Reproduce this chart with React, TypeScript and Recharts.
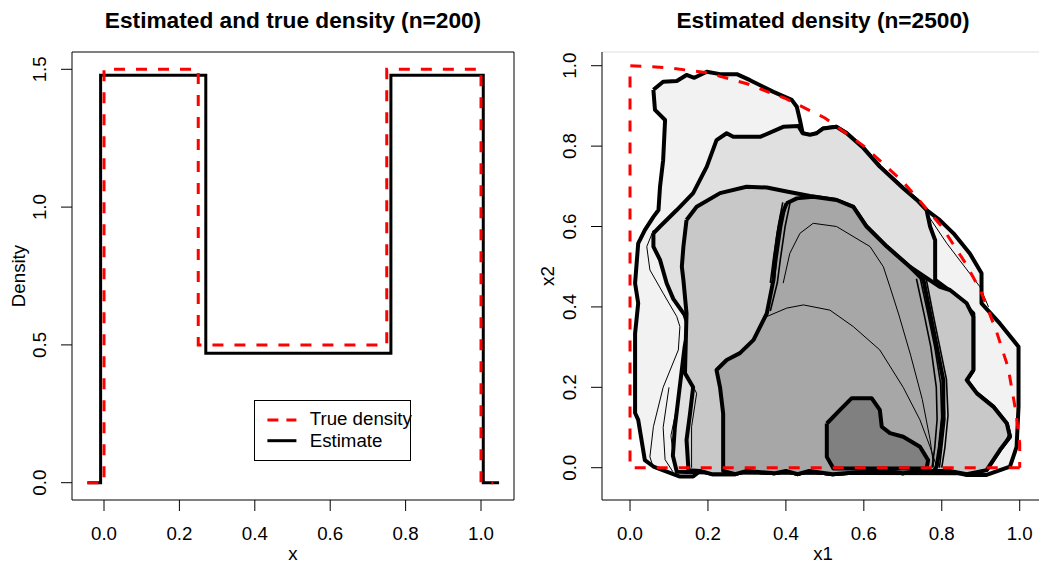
import React from 'react';
import { ComposedChart, Line, Scatter, XAxis, YAxis, ReferenceArea, ReferenceLine, Legend } from 'recharts';

const FONT = '"Liberation Sans", Arial, Helvetica, sans-serif';
const BASE = 18.7;

// ---- left panel: step densities (n=200)
const trueX = [-0.044, 0, 0, 0.25, 0.25, 0.75, 0.75, 1, 1, 1.032];
const trueY = [0, 0, 1.5, 1.5, 0.5, 0.5, 1.5, 1.5, 0, 0];
const estX = [-0.044, -0.009, -0.009, 0.27, 0.27, 0.761, 0.761, 1.006, 1.006, 1.048];
const estY = [0, 0, 1.478, 1.478, 0.4695, 0.4695, 1.478, 1.478, 0, 0];
const leftXTicks = [0, 0.2, 0.4, 0.6, 0.8, 1];
const leftYTicks = [0, 0.5, 1, 1.5];

// ---- right panel: filled contour levels (n=2500), outer to inner
const level1 = [
  [0.06, 0.94], [0.085, 0.96], [0.12, 0.962], [0.145, 0.977], [0.165, 0.97], [0.197, 0.985], [0.231, 0.979],
  [0.274, 0.979], [0.308, 0.964], [0.368, 0.935], [0.415, 0.915], [0.428, 0.898], [0.436, 0.865], [0.443, 0.832],
  [0.462, 0.828], [0.479, 0.832], [0.496, 0.844], [0.53, 0.848], [0.556, 0.832], [0.599, 0.795], [0.641, 0.749],
  [0.701, 0.695], [0.736, 0.666], [0.761, 0.641], [0.795, 0.616], [0.83, 0.583], [0.872, 0.533], [0.902, 0.484],
  [0.902, 0.409], [0.949, 0.359], [0.997, 0.301], [0.997, 0.152], [0.992, 0.052], [0.975, 0.003], [0.915, -0.018],
  [0.864, -0.018], [0.82, -0.008], [0.74, -0.008], [0.7, -0.014], [0.66, -0.008], [0.6, -0.01], [0.52, -0.016],
  [0.46, -0.008], [0.43, -0.016], [0.4, -0.008], [0.37, -0.014], [0.3, -0.008], [0.27, -0.016], [0.21, -0.016],
  [0.18, -0.008], [0.162, -0.022], [0.128, -0.022], [0.06, 0.003], [0.038, 0.019], [0.021, 0.119], [0.013, 0.136],
  [0.013, 0.334], [0.021, 0.409], [0.013, 0.459], [0.021, 0.558], [0.038, 0.591], [0.06, 0.624], [0.073, 0.641],
  [0.077, 0.699], [0.085, 0.765], [0.09, 0.865], [0.064, 0.89], [0.06, 0.94],
];
const level2 = [
  [0.06, 0.583], [0.077, 0.6], [0.12, 0.641], [0.162, 0.683], [0.197, 0.749], [0.222, 0.815], [0.248, 0.832],
  [0.265, 0.823], [0.334, 0.823], [0.393, 0.848], [0.432, 0.85], [0.443, 0.832], [0.462, 0.828], [0.479, 0.832],
  [0.496, 0.844], [0.53, 0.848], [0.556, 0.832], [0.599, 0.795], [0.641, 0.749], [0.701, 0.695], [0.736, 0.666],
  [0.761, 0.641], [0.77, 0.6], [0.783, 0.566], [0.783, 0.467], [0.83, 0.434], [0.881, 0.384], [0.881, 0.243],
  [0.864, 0.218], [0.89, 0.185], [0.932, 0.152], [0.967, 0.11], [0.975, 0.077], [0.949, 0.044], [0.915, -0.006],
  [0.864, -0.014], [0.2, -0.012], [0.12, -0.01], [0.11, 0.03], [0.115, 0.1], [0.13, 0.22], [0.14, 0.3], [0.15, 0.35],
  [0.14, 0.38], [0.111, 0.42], [0.094, 0.459], [0.077, 0.517], [0.06, 0.55], [0.06, 0.583],
];
const level3 = [
  [0.145, 0.616], [0.171, 0.649], [0.231, 0.683], [0.299, 0.699], [0.351, 0.697], [0.402, 0.687], [0.462, 0.676],
  [0.53, 0.666], [0.573, 0.649], [0.607, 0.6], [0.659, 0.55], [0.718, 0.5], [0.795, 0.45], [0.821, 0.442],
  [0.864, 0.409], [0.881, 0.376], [0.881, 0.243], [0.864, 0.218], [0.89, 0.185], [0.932, 0.152], [0.967, 0.11],
  [0.975, 0.077], [0.949, 0.044], [0.915, -0.006], [0.864, -0.016], [0.82, -0.008], [0.74, -0.008], [0.7, -0.014],
  [0.66, -0.008], [0.6, -0.01], [0.52, -0.016], [0.46, -0.008], [0.43, -0.016], [0.4, -0.008], [0.37, -0.014],
  [0.3, -0.008], [0.27, -0.016], [0.21, -0.016], [0.18, -0.008], [0.15, -0.006], [0.145, 0.069], [0.154, 0.135],
  [0.162, 0.2], [0.141, 0.235], [0.145, 0.384], [0.137, 0.467], [0.133, 0.5], [0.137, 0.55], [0.145, 0.616],
];
const level4 = [
  [0.402, 0.658], [0.428, 0.67], [0.47, 0.674], [0.53, 0.666], [0.573, 0.649], [0.607, 0.6], [0.659, 0.55],
  [0.718, 0.5], [0.753, 0.467], [0.77, 0.384], [0.787, 0.301], [0.804, 0.218], [0.804, 0.135], [0.795, 0.052],
  [0.787, 0.003], [0.78, -0.008], [0.74, -0.008], [0.7, -0.014], [0.66, -0.008], [0.6, -0.01], [0.52, -0.016],
  [0.46, -0.008], [0.43, -0.016], [0.4, -0.008], [0.37, -0.014], [0.3, -0.008], [0.27, -0.016], [0.239, -0.008],
  [0.239, 0.135], [0.231, 0.2], [0.222, 0.243], [0.248, 0.268], [0.282, 0.285], [0.317, 0.318], [0.351, 0.384],
  [0.368, 0.467], [0.372, 0.52], [0.38, 0.58], [0.39, 0.63], [0.402, 0.658],
];
const level5 = [
  [0.505, 0.11], [0.539, 0.144], [0.569, 0.173], [0.62, 0.173], [0.641, 0.144], [0.646, 0.102], [0.667, 0.086],
  [0.701, 0.077], [0.744, 0.052], [0.765, 0.019], [0.761, -0.002], [0.522, -0.002], [0.505, 0.027], [0.505, 0.11],
];
const levelFills = ['#f2f2f2', '#e0e0e0', '#c8c8c8', '#a7a7a7', '#808080'];

// thin contour lines between the shaded levels
const thinLines = [
  [[0.393, 0.459], [0.41, 0.533], [0.436, 0.583], [0.47, 0.608], [0.53, 0.6], [0.616, 0.55], [0.65, 0.5], [0.667, 0.45], [0.69, 0.38], [0.72, 0.28], [0.75, 0.17], [0.77, 0.07], [0.78, 0.0]],
  [[0.351, 0.376], [0.402, 0.397], [0.445, 0.405], [0.513, 0.392], [0.573, 0.351], [0.641, 0.293], [0.701, 0.2], [0.744, 0.119], [0.77, 0.052], [0.787, 0.002]],
  [[0.06, 0.591], [0.043, 0.55], [0.051, 0.492], [0.085, 0.434], [0.12, 0.376], [0.128, 0.351], [0.124, 0.293], [0.085, 0.2], [0.06, 0.102], [0.051, 0.027], [0.06, 0.0]],
  [[0.145, 0.235], [0.171, 0.185], [0.158, 0.102], [0.158, 0.0]],
  [[0.1, 0.2], [0.085, 0.1], [0.09, 0.02], [0.11, -0.01]],
  [[0.12, 0.15], [0.105, 0.08], [0.115, 0.0]],
  [[0.761, 0.633], [0.813, 0.558], [0.898, 0.45], [0.92, 0.4]],
  [[0.975, 0.09], [0.95, 0.04], [0.91, -0.008]],
];

// dense bundles of contour lines on the steep edges of the inner level
const bundleLines = [
  [[0.412, 0.665], [0.398, 0.6], [0.386, 0.52], [0.378, 0.46], [0.36, 0.39]],
  [[0.392, 0.66], [0.38, 0.6], [0.368, 0.52], [0.36, 0.46]],
  [[0.402, 0.662], [0.389, 0.6], [0.377, 0.52], [0.369, 0.46]],
  [[0.735, 0.47], [0.755, 0.38], [0.772, 0.3], [0.786, 0.2], [0.788, 0.12], [0.782, 0.05], [0.775, 0.0]],
  [[0.745, 0.47], [0.765, 0.38], [0.782, 0.3], [0.797, 0.21], [0.8, 0.12], [0.793, 0.05], [0.787, 0.0]],
  [[0.752, 0.47], [0.772, 0.38], [0.789, 0.3], [0.804, 0.21], [0.808, 0.12], [0.8, 0.05], [0.794, 0.0]],
  [[0.76, 0.47], [0.778, 0.38], [0.795, 0.3], [0.812, 0.22], [0.816, 0.13], [0.808, 0.05], [0.8, 0.0]],
];

// support of the true density
const supportEdge = [
  [1, 0], [0, 0], [0, 1], [0.1, 0.995], [0.2, 0.982], [0.3, 0.955], [0.4, 0.918], [0.5, 0.87], [0.6, 0.8],
  [0.7, 0.712], [0.8, 0.6], [0.86, 0.51], [0.9, 0.44], [0.94, 0.34], [0.97, 0.25], [0.99, 0.14], [1, 0.06], [1, 0],
];
const rightTicks = [0, 0.2, 0.4, 0.6, 0.8, 1];

const toXY = (xs: number[], ys: number[]) => xs.map((x, i) => ({ x, y: ys[i] }));
const toPts = (pairs: number[][]) => pairs.map(([x, y]) => ({ x, y }));

const Nothing = () => <g />;

function XTick(props: any) {
  const { x, y, payload } = props;
  return (
    <text x={x} y={y + 28.5} textAnchor="middle" fontSize={BASE} fontFamily={FONT} fill="#000">
      {Number(payload.value).toFixed(1)}
    </text>
  );
}

function YTick(props: any) {
  const { x, y, payload } = props;
  const bx = x - 15.3;
  return (
    <text x={bx} y={y} transform={`rotate(-90, ${bx}, ${y})`} textAnchor="middle" fontSize={BASE} fontFamily={FONT} fill="#000">
      {Number(payload.value).toFixed(1)}
    </text>
  );
}

function LegendBox() {
  return (
    <svg width={157} height={61} style={{ display: 'block', overflow: 'visible' }}>
      <rect x={0.5} y={0.5} width={156} height={60} fill="#fff" stroke="#000" />
      <line x1={13.4} x2={42.4} y1={20} y2={20} stroke="#ff0000" strokeWidth={3} strokeDasharray="11 8" />
      <line x1={13.4} x2={42.4} y1={40.7} y2={40.7} stroke="#000" strokeWidth={3} />
      <text x={55.7} y={25} fontSize={BASE} fontFamily={FONT}>True density</text>
      <text x={55.7} y={47.3} fontSize={BASE} fontFamily={FONT}>Estimate</text>
    </svg>
  );
}

const axisCommon = {
  type: 'number' as const,
  allowDataOverflow: true,
  interval: 0 as const,
  tickSize: 11,
  tickMargin: 0,
  tickLine: { stroke: '#000' },
};

export default function App() {
  const lx: [number, number] = [-0.08488, 1.0875];
  const ly: [number, number] = [-0.0628, 1.5628];
  const rx: [number, number] = [-0.0719, 1.0726];
  const ry: [number, number] = [-0.0803, 1.0341];
  const levels = [level1, level2, level3, level4, level5];

  return (
    <div style={{ position: 'absolute', left: 0, top: 0, width: 1039, height: 563, overflow: 'hidden', background: '#fff', fontFamily: FONT }}>
      <div style={{ position: 'absolute', left: 0, top: 0 }}>
        <ComposedChart width={520} height={563} margin={{ top: 52, right: 6, left: 0, bottom: 0 }}>
          <XAxis {...axisCommon} dataKey="x" domain={lx} ticks={leftXTicks} height={63} axisLine={false} tick={(p: any) => <XTick {...p} />} />
          <YAxis {...axisCommon} dataKey="y" domain={ly} ticks={leftYTicks} width={72} axisLine={false} tick={(p: any) => <YTick {...p} />} />
          <ReferenceArea x1={lx[0]} x2={lx[1]} y1={ly[0]} y2={ly[1]} fill="none" stroke="#000" strokeWidth={1} fillOpacity={0} />
          <Line data={toXY(estX, estY)} dataKey="y" name="Estimate" type="linear" stroke="#000" strokeWidth={3} dot={false} isAnimationActive={false} />
          <Line data={toXY(trueX, trueY)} dataKey="y" name="True density" type="linear" stroke="#ff0000" strokeWidth={3} strokeDasharray="11 11" dot={false} isAnimationActive={false} />
          <Legend layout="vertical" align="center" verticalAlign="middle" wrapperStyle={{ left: 254, top: 400, width: 157, height: 61 }} content={() => <LegendBox />} />
        </ComposedChart>
      </div>

      <div style={{ position: 'absolute', left: 520, top: 0 }}>
        <ComposedChart width={540} height={563} margin={{ top: 52, right: 12, left: 0, bottom: 0 }}>
          <XAxis {...axisCommon} dataKey="x" domain={rx} ticks={rightTicks} height={63} axisLine={{ stroke: '#000' }} tick={(p: any) => <XTick {...p} />} />
          <YAxis {...axisCommon} dataKey="y" domain={ry} ticks={rightTicks} width={82} axisLine={{ stroke: '#000' }} tick={(p: any) => <YTick {...p} />} />
          <ReferenceLine y={ry[1]} stroke="#dedede" strokeWidth={1} />
          {levels.map((lv, i) => (
            <Scatter
              key={`lv${i}`}
              data={toPts(lv)}
              shape={Nothing}
              lineType="joint"
              line={{ fill: levelFills[i], stroke: '#000', strokeWidth: 4, strokeLinejoin: 'round' }}
              isAnimationActive={false}
            />
          ))}
          {thinLines.map((ln, i) => (
            <Scatter
              key={`tl${i}`}
              data={toPts(ln)}
              shape={Nothing}
              lineType="joint"
              line={{ fill: 'none', stroke: '#000', strokeWidth: 1 }}
              isAnimationActive={false}
            />
          ))}
          {bundleLines.map((ln, i) => (
            <Scatter
              key={`bl${i}`}
              data={toPts(ln)}
              shape={Nothing}
              lineType="joint"
              line={{ fill: 'none', stroke: '#000', strokeWidth: 1.6 }}
              isAnimationActive={false}
            />
          ))}
          <Scatter
            data={toPts(supportEdge)}
            shape={Nothing}
            lineType="joint"
            line={{ fill: 'none', stroke: '#ff0000', strokeWidth: 3, strokeDasharray: '11 11' }}
            isAnimationActive={false}
          />
        </ComposedChart>
      </div>

      <svg width={1039} height={563} style={{ position: 'absolute', left: 0, top: 0, pointerEvents: 'none' }}>
        <g fontFamily={FONT} fill="#000">
          <text x={293} y={28.3} textAnchor="middle" fontSize={22.7} fontWeight="bold">Estimated and true density (n=200)</text>
          <text x={823} y={28.3} textAnchor="middle" fontSize={22.7} fontWeight="bold">Estimated density (n=2500)</text>
          <text x={293} y={560} textAnchor="middle" fontSize={BASE}>x</text>
          <text x={823} y={560} textAnchor="middle" fontSize={BASE}>x1</text>
          <text x={24.5} y={276} textAnchor="middle" fontSize={BASE} transform="rotate(-90, 24.5, 276)">Density</text>
          <text x={554} y={276} textAnchor="middle" fontSize={BASE} transform="rotate(-90, 554, 276)">x2</text>
        </g>
      </svg>
    </div>
  );
}
